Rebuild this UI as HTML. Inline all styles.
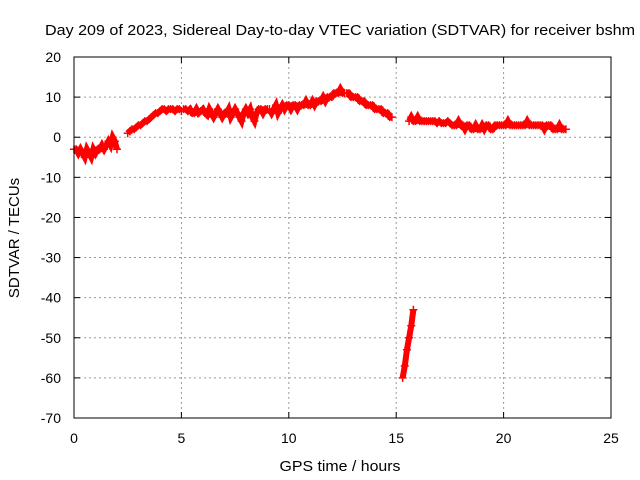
<!DOCTYPE html>
<html><head><meta charset="utf-8"><style>
body{margin:0;background:#fff}
svg{display:block;font-family:"Liberation Sans",sans-serif;font-size:14px}
</style></head><body>
<svg id="c" width="640" height="480">
<text x="340" y="35" text-anchor="middle" font-size="15" textLength="590" lengthAdjust="spacingAndGlyphs">Day 209 of 2023, Sidereal Day-to-day VTEC variation (SDTVAR) for receiver bshm</text>
<text x="340" y="471" text-anchor="middle" font-size="15" textLength="121" lengthAdjust="spacingAndGlyphs">GPS time / hours</text>
<text transform="translate(19,238) rotate(-90)" text-anchor="middle" font-size="15">SDTVAR / TECUs</text>
<g id="grid"></g><g id="ticks"></g><g id="marks"></g>
<rect x="74" y="57" width="537" height="361" fill="none" stroke="#000" stroke-width="1"/>
</svg>
<script>
const xTicks=[0,5,10,15,20,25];
const yTicks=[-70,-60,-50,-40,-30,-20,-10,0,10,20];
const seg1Start=0, seg1Values=[-3,-3,-4,-3,-4,-5,-3,-4,-5,-3,-4,-3,-3,-2,-3,-2,-1,-2,0,-1,-3];
const seg2Start=2.5, seg2Values=[1,1.5,2,2,2.5,3,3,3.5,4,4,4.5,5,5.5,6,6,6.5,7,7,6.5,7,7,7,6.5,7,7,6.5];
const seg3Start=5.1, seg3Values=[7,7,6.5,7,6,6,7,6,6.5,7,6,5.5,7,6,5,6,7,6,5,6,6,7,5,6,7,6,5,4,6,7,6,7,5,4,6,7,7,6,7,7];
const seg4Start=9.1, seg4Values=[7,6,7,8,6,7,8,7,8,8,7,8,8,7,8,8,8,9,8,8,9,8,9,9,9,10,9,10,10,10,11,11,11,12,11,11];
const seg5Start=12.7, seg5Values=[11,11,10,10,10,10,9,9,9,8,8,8,8,7,7,7,7,6,6,6,5,5];
const seg6Start=15.3, seg6Values=[-60,-57,-53,-50,-47,-43];
const seg7Start=15.6, seg7Values=[4,5,4,4,5,4,4,4,4,4,4,4,4,3.5,4,3.5,3.5,3.5,4,3.5,3,3,3,4,3,3,2,3,3,2,2,3,2,2,3,2,3,3,2,2,3,3,3,3,3,3,4,3,3,3,3,3,3,3,3,4,3,3,3,3,3,3,3,2,3,3,3,2,2,2,3,2,2,2];
const segments=[[seg1Start,0.1,seg1Values],[seg2Start,0.1,seg2Values],[seg3Start,0.1,seg3Values],[seg4Start,0.1,seg4Values],[seg5Start,0.1,seg5Values],[seg6Start,0.1,seg6Values],[seg7Start,0.1,seg7Values]];
const NS="http://www.w3.org/2000/svg";
const X=v=>74+v*(537/25), Y=v=>418-(v+70)*(361/90);
function mk(t,a,p){const e=document.createElementNS(NS,t);for(const k in a)e.setAttribute(k,a[k]);p.appendChild(e);return e;}
const g=document.getElementById('grid'),tk=document.getElementById('ticks'),m=document.getElementById('marks');
xTicks.forEach(v=>{
 if(v>0&&v<25){const l=mk('line',{x1:X(v),x2:X(v),y1:57,y2:418,stroke:'#999','stroke-dasharray':'2,3'},g);
 
 }
 mk('line',{x1:X(v),x2:X(v),y1:418,y2:412,stroke:'#000'},tk);
 mk('line',{x1:X(v),x2:X(v),y1:57,y2:63,stroke:'#000'},tk);
 const t=mk('text',{x:X(v),y:443,'text-anchor':'middle'},tk);t.textContent=v;
 
 
});
yTicks.forEach(v=>{
 if(v>-70&&v<20){const l=mk('line',{x1:74,x2:611,y1:Y(v),y2:Y(v),stroke:'#999','stroke-dasharray':'2,3'},g);
 
 }
 mk('line',{x1:74,x2:80,y1:Y(v),y2:Y(v),stroke:'#000'},tk);
 mk('line',{x1:611,x2:605,y1:Y(v),y2:Y(v),stroke:'#000'},tk);
 const t=mk('text',{x:61,y:Y(v)+5,'text-anchor':'end'},tk);t.textContent=v;
 
 
});
segments.forEach(([s,st,vals])=>{
 const pts=vals.map((v,i)=>[X(s+i*st),Y(v)]);
 const pl=mk('polyline',{points:pts.map(p=>p.join(',')).join(' '),fill:'none',stroke:'#f00','stroke-width':6},m);
 
 
 pts.forEach(([x,y])=>{
  const p=mk('path',{d:`M${x-4},${y}H${x+4}M${x},${y-4}V${y+4}`,stroke:'#f00','stroke-width':1.5},m);
  
  
 });
});
</script>
</body></html>
